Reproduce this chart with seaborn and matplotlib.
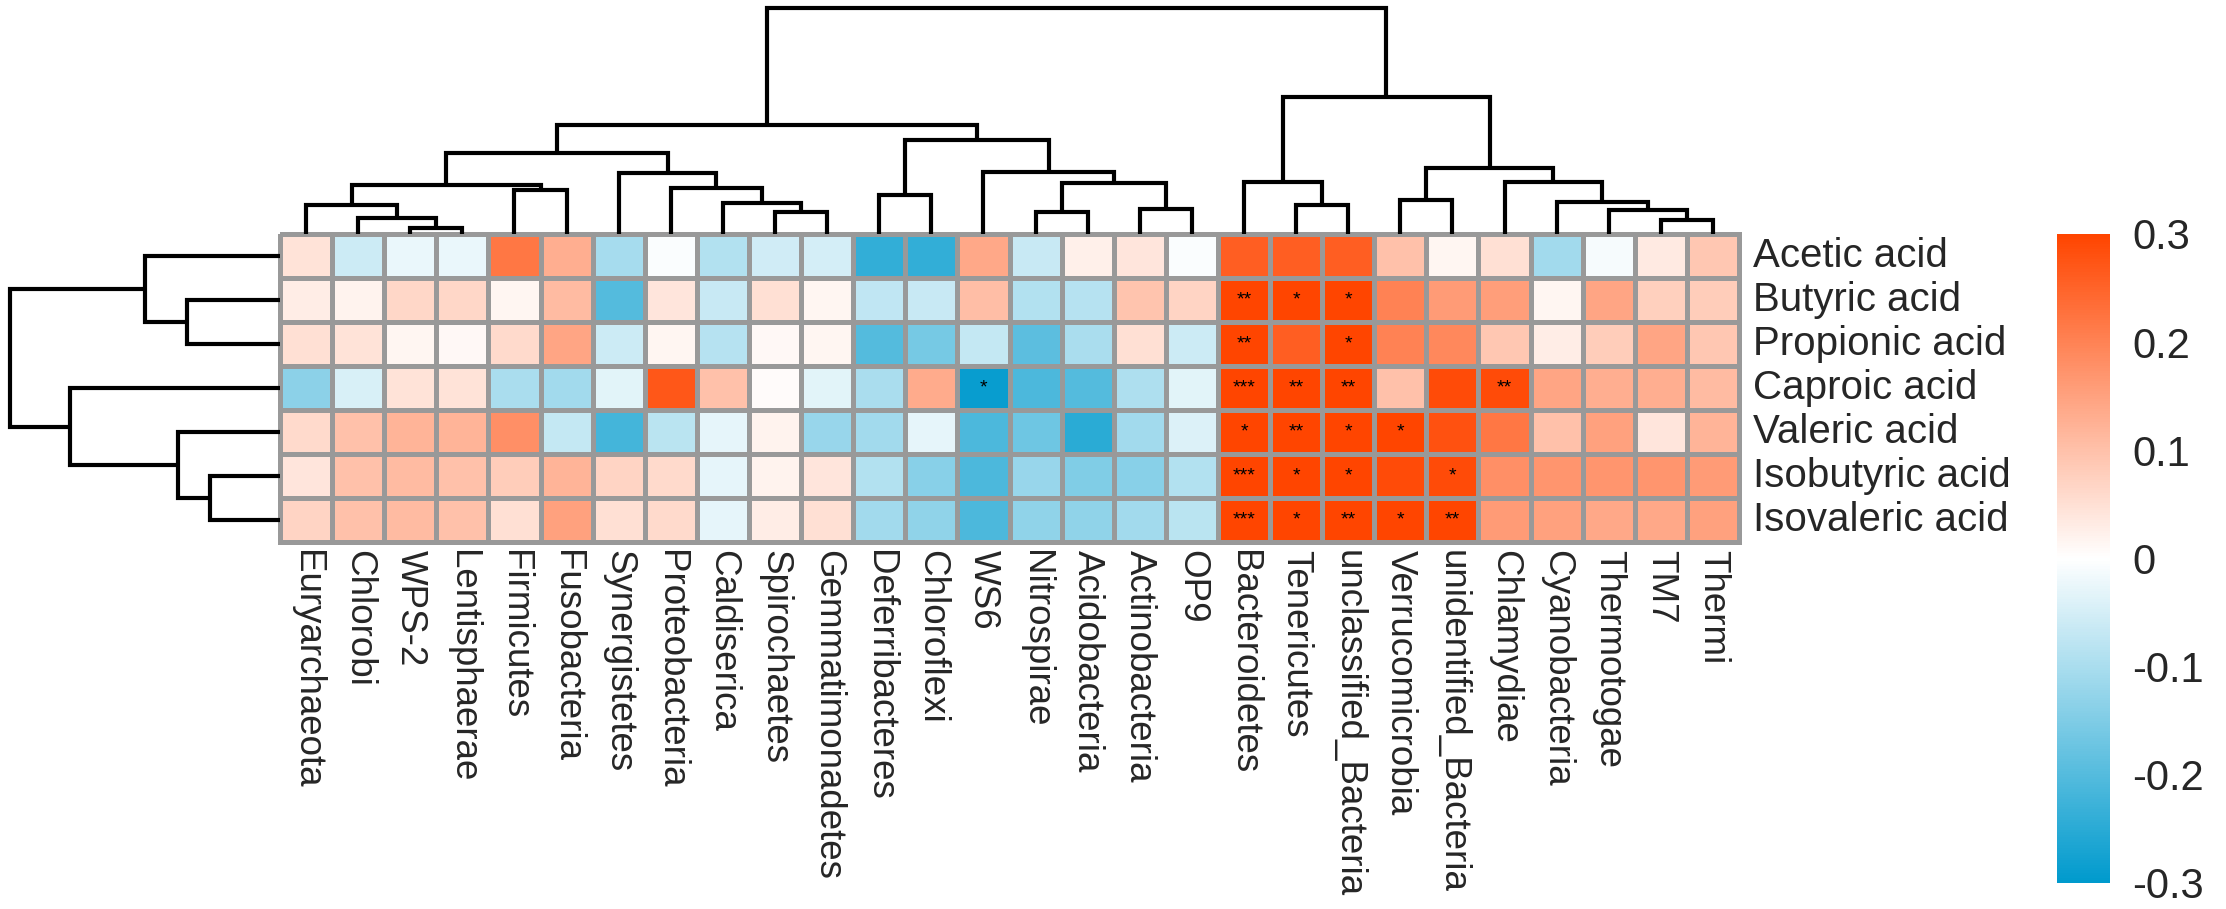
import numpy as np
import pandas as pd
import matplotlib
matplotlib.use("Agg")
import matplotlib.pyplot as plt
import seaborn as sns
from matplotlib.colors import LinearSegmentedColormap

phyla = ["Euryarchaeota", "Chlorobi", "WPS-2", "Lentisphaerae", "Firmicutes",
         "Fusobacteria", "Synergistetes", "Proteobacteria", "Caldiserica",
         "Spirochaetes", "Gemmatimonadetes", "Deferribacteres", "Chloroflexi",
         "WS6", "Nitrospirae", "Acidobacteria", "Actinobacteria", "OP9",
         "Bacteroidetes", "Tenericutes", "unclassified_Bacteria",
         "Verrucomicrobia", "unidentified_Bacteria", "Chlamydiae",
         "Cyanobacteria", "Thermotogae", "TM7", "Thermi"]
acids = ["Acetic acid", "Butyric acid", "Propionic acid", "Caproic acid",
         "Valeric acid", "Isobutyric acid", "Isovaleric acid"]

# correlation per acid, in the column order of the picture
acetic = [0.045, -0.06, -0.025, -0.025, 0.22, 0.13, -0.105, -0.005, -0.09, -0.055,
          -0.05, -0.24, -0.24, 0.14, -0.065, 0.025, 0.04, -0.005, 0.26, 0.26,
          0.26, 0.10, 0.015, 0.05, -0.11, -0.01, 0.035, 0.09]
butyric = [0.03, 0.02, 0.065, 0.065, 0.015, 0.11, -0.20, 0.04, -0.065, 0.05,
           0.015, -0.075, -0.065, 0.105, -0.09, -0.085, 0.095, 0.07, 0.30, 0.30,
           0.30, 0.20, 0.16, 0.155, 0.015, 0.145, 0.075, 0.08]
propionic = [0.05, 0.045, 0.015, 0.01, 0.06, 0.145, -0.06, 0.015, -0.085, 0.01,
             0.015, -0.20, -0.16, -0.07, -0.19, -0.10, 0.05, -0.06, 0.30, 0.26,
             0.30, 0.20, 0.19, 0.09, 0.03, 0.08, 0.145, 0.09]
caproic = [-0.135, -0.045, 0.045, 0.045, -0.10, -0.11, -0.035, 0.27, 0.10, 0.005,
           -0.035, -0.10, 0.135, -0.29, -0.21, -0.20, -0.095, -0.035, 0.30, 0.30,
           0.30, 0.10, 0.29, 0.29, 0.145, 0.13, 0.13, 0.11]
valeric = [0.06, 0.10, 0.12, 0.12, 0.18, -0.07, -0.22, -0.08, -0.03, 0.02,
           -0.12, -0.11, -0.03, -0.21, -0.17, -0.25, -0.11, -0.04, 0.30, 0.30,
           0.30, 0.30, 0.28, 0.22, 0.10, 0.15, 0.04, 0.12]
isobutyric = [0.04, 0.10, 0.11, 0.10, 0.08, 0.12, 0.07, 0.06, -0.03, 0.02,
              0.04, -0.09, -0.14, -0.21, -0.12, -0.15, -0.14, -0.09, 0.30, 0.30,
              0.30, 0.29, 0.29, 0.18, 0.17, 0.17, 0.17, 0.16]
isovaleric = [0.07, 0.10, 0.11, 0.10, 0.05, 0.15, 0.05, 0.06, -0.03, 0.03,
              0.05, -0.11, -0.13, -0.21, -0.13, -0.13, -0.11, -0.08, 0.30, 0.30,
              0.30, 0.30, 0.30, 0.16, 0.15, 0.14, 0.14, 0.15]

stars = [
    ("Butyric acid", "Bacteroidetes", "**"), ("Butyric acid", "Tenericutes", "*"),
    ("Butyric acid", "unclassified_Bacteria", "*"),
    ("Propionic acid", "Bacteroidetes", "**"), ("Propionic acid", "unclassified_Bacteria", "*"),
    ("Caproic acid", "WS6", "*"), ("Caproic acid", "Bacteroidetes", "***"),
    ("Caproic acid", "Tenericutes", "**"), ("Caproic acid", "unclassified_Bacteria", "**"),
    ("Caproic acid", "Chlamydiae", "**"),
    ("Valeric acid", "Bacteroidetes", "*"), ("Valeric acid", "Tenericutes", "**"),
    ("Valeric acid", "unclassified_Bacteria", "*"), ("Valeric acid", "Verrucomicrobia", "*"),
    ("Isobutyric acid", "Bacteroidetes", "***"), ("Isobutyric acid", "Tenericutes", "*"),
    ("Isobutyric acid", "unclassified_Bacteria", "*"), ("Isobutyric acid", "unidentified_Bacteria", "*"),
    ("Isovaleric acid", "Bacteroidetes", "***"), ("Isovaleric acid", "Tenericutes", "*"),
    ("Isovaleric acid", "unclassified_Bacteria", "**"), ("Isovaleric acid", "Verrucomicrobia", "*"),
    ("Isovaleric acid", "unidentified_Bacteria", "**"),
]

# dendrograms: (left, right, height); a string is a leaf, an int is an earlier merge
col_links = [
    ("WPS-2", "Lentisphaerae", 6), ("Chlorobi", 0, 16), ("Euryarchaeota", 1, 29),
    ("Firmicutes", "Fusobacteria", 44), (2, 3, 49),
    ("Spirochaetes", "Gemmatimonadetes", 22), ("Caldiserica", 5, 31),
    ("Proteobacteria", 6, 46), ("Synergistetes", 7, 61), (4, 8, 81),
    ("Deferribacteres", "Chloroflexi", 39), ("Nitrospirae", "Acidobacteria", 22),
    ("Actinobacteria", "OP9", 25), (11, 12, 51), ("WS6", 13, 62), (10, 14, 94),
    (9, 15, 109),
    ("Tenericutes", "unclassified_Bacteria", 29), ("Bacteroidetes", 17, 52),
    ("Verrucomicrobia", "unidentified_Bacteria", 34), ("TM7", "Thermi", 14),
    ("Thermotogae", 20, 24), ("Cyanobacteria", 21, 32), ("Chlamydiae", 22, 52),
    (19, 23, 66), (18, 24, 137), (16, 25, 226),
]
row_links = [
    ("Isobutyric acid", "Isovaleric acid", 70), ("Valeric acid", 0, 102),
    ("Caproic acid", 1, 210), ("Butyric acid", "Propionic acid", 93),
    ("Acetic acid", 3, 135), (4, 2, 270),
]

values = pd.DataFrame([acetic, butyric, propionic, caproic, valeric, isobutyric, isovaleric],
                      index=acids, columns=phyla)
annot = pd.DataFrame("", index=acids, columns=phyla)
for acid, phylum, s in stars:
    annot.loc[acid, phylum] = s


def draw_tree(ax, links, order, sideways=False):
    pos = {name: i + 0.5 for i, name in enumerate(order)}
    node_pos, node_h = [], []

    def get(c):
        if isinstance(c, str):
            return pos[c], 0.0
        return node_pos[c], node_h[c]

    for a, b, h in links:
        xa, ha = get(a)
        xb, hb = get(b)
        xs = [xa, xa, xb, xb]
        ys = [ha, h, h, hb]
        if sideways:
            xs, ys = ys, xs
        ax.plot(xs, ys, color="black", lw=3.0, solid_joinstyle="miter",
                solid_capstyle="butt", clip_on=False)
        node_pos.append((xa + xb) / 2)
        node_h.append(h)


sns.set_style("white")
plt.rcParams["font.family"] = ["Liberation Sans", "DejaVu Sans"]

W, H = 2226, 909
fig = plt.figure(figsize=(W / 100, H / 100), dpi=100)


def rect(x0, y0, x1, y1):
    return [x0 / W, 1 - y1 / H, (x1 - x0) / W, (y1 - y0) / H]


ax = fig.add_axes(rect(280, 234, 1739, 542))
cax = fig.add_axes(rect(2057, 234, 2110, 883))
ax_top = fig.add_axes(rect(280, 0, 1739, 234))
ax_left = fig.add_axes(rect(0, 234, 280, 542))

cmap = LinearSegmentedColormap.from_list("pheat", ["#009ACD", "#FFFFFF", "#FF4500"])
ticks = [-0.3, -0.2, -0.1, 0, 0.1, 0.2, 0.3]
sns.heatmap(values, ax=ax, cbar_ax=cax, cmap=cmap, vmin=-0.3, vmax=0.3,
            linewidths=3.6, linecolor="#999999",
            annot=annot.values, fmt="", annot_kws={"size": 14, "color": "black"},
            xticklabels=True, yticklabels=True, cbar_kws={"ticks": ticks})
ax.collections[0].set_clip_on(False)

ax.xaxis.tick_bottom()
ax.yaxis.tick_right()
ax.tick_params(axis="x", length=0, pad=6, labelsize=26.5)
ax.tick_params(axis="y", length=0, pad=10, labelsize=29)
plt.setp(ax.get_xticklabels(), rotation=270, ha="center", va="top")
plt.setp(ax.get_yticklabels(), rotation=0, ha="left", va="center")
ax.set_xlabel("")
ax.set_ylabel("")

cbar = ax.collections[0].colorbar
cbar.outline.set_visible(False)
cbar.set_ticks(ticks)
cbar.set_ticklabels(["-0.3", "-0.2", "-0.1", "0", "0.1", "0.2", "0.3"])
cax.tick_params(length=0, labelsize=30, pad=16)

draw_tree(ax_top, col_links, phyla)
ax_top.set_xlim(0, len(phyla))
ax_top.set_ylim(0, 234)
ax_top.axis("off")

draw_tree(ax_left, row_links, acids, sideways=True)
ax_left.set_xlim(280, 0)
ax_left.set_ylim(len(acids), 0)
ax_left.axis("off")

fig.savefig("out.png", dpi=100)
plt.close()
